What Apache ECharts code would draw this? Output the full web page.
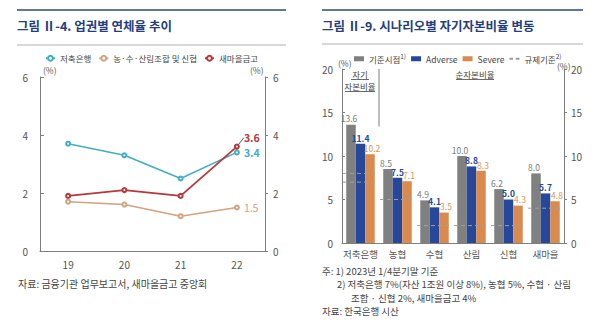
<!DOCTYPE html>
<html><head><meta charset="utf-8">
<script src="https://cdn.jsdelivr.net/npm/echarts@6/dist/echarts.min.js"></script>
<style>html,body{margin:0;padding:0;background:#fff}#c{width:600px;height:327px}</style>
</head><body><div id="c"></div>
<script>
// ---- left chart data ----
const years = ['19', '20', '21', '22'];
const savingsBank = [3.7, 3.3, 2.5, 3.4];
const coops = [1.7, 1.6, 1.2, 1.5];
const mgBank = [1.9, 2.1, 1.9, 3.6];
const leftNames = ['저축은행', '농·수·산림조합 및 신협', '새마을금고'];
// ---- right chart data ----
const sectors = ['저축은행', '농협', '수협', '산림', '신협', '새마을'];
const baseline = [13.6, 8.5, 4.9, 10.0, 6.2, 8.0];
const adverse = [11.4, 7.5, 4.1, 8.8, 5.0, 5.7];
const severe = [10.2, 7.1, 3.5, 8.3, 4.3, 4.8];
const regulation = [[0, 8], [0, 7], [1, 5], [2, 2], [3, 2], [4, 2], [5, 4]];
const rightNames = ['기준시점', 'Adverse', 'Severe', '규제기준'];
const dividerSpan = [[0, 20, 13.4]];

const FONT = '"Noto Sans CJK KR", "Noto Sans", sans-serif';
const AX = '#7f7f7f', TXT = '#555';
const cTeal = '#3fb0c2', cTan = '#d4a27e', cRed = '#b8373a';
const cGray = '#808080', cNavy = '#26479a', cOrange = '#d98b4f';
const TITLE = '#24407c';
const LAST = years.length - 1;

const chart = echarts.init(document.getElementById('c'), null, {renderer: 'svg'});

function withLastLabel(arr, color, bold, extra) {
  return arr.map((v, i) => i === LAST ? Object.assign({value: v,
    label: {show: true, position: 'right', distance: 4, color: color, fontSize: 10.5,
      fontWeight: bold ? 'bold' : 'normal', fontFamily: FONT, formatter: p => p.value.toFixed(1)}}, extra || {}) : v);
}
function barLabel(color, bold) {
  return {show: true, position: 'top', distance: 2, color: color, fontSize: 8.5,
    fontWeight: bold ? 'bold' : 'normal', formatter: p => p.value.toFixed(1)};
}

const regIcon = 'path://M0,0h4v2h-4zM7,0h4v2h-4z';

chart.setOption({
  animation: false,
  textStyle: {fontFamily: FONT},
  legend: [
    {data: leftNames, left: 40, top: 49, itemWidth: 9, itemHeight: 6, itemGap: 7,
      textStyle: {fontSize: 8.5, color: '#444', fontFamily: FONT}},
    {data: rightNames.map((n, i) => i === 3 ? {name: n, icon: regIcon} : {name: n, icon: 'rect'}),
      left: 349, top: 48, itemWidth: 10, itemHeight: 5, itemGap: 5,
      formatter: n => (n === '기준시점' ? '{t|기준시점}{s|1)}' : n === '규제기준' ? '{t|규제기준}{s|2)}' : '{t|' + n + '}'),
      textStyle: {fontSize: 8.5, color: '#444', fontFamily: FONT,
        rich: {t: {fontSize: 8.5, color: '#444', fontFamily: FONT}, s: {fontSize: 6.5, color: '#444', verticalAlign: 'top', padding: [0, 0, 5, 0]}}}}
  ],
  grid: [
    {left: 40, top: 77, width: 225, height: 174},
    {left: 342, top: 69, width: 222, height: 174}
  ],
  xAxis: [
    {gridIndex: 0, type: 'category', data: years, boundaryGap: true,
      axisLine: {lineStyle: {color: AX}}, axisTick: {inside: true, length: 4, lineStyle: {color: AX}},
      axisLabel: {color: TXT, fontSize: 10, margin: 8}},
    {gridIndex: 1, type: 'category', data: sectors, boundaryGap: true,
      axisLine: {lineStyle: {color: AX}}, axisTick: {inside: true, length: 3, lineStyle: {color: AX}},
      axisLabel: {color: TXT, fontSize: 9.5, margin: 6, interval: 0}}
  ],
  yAxis: [
    {gridIndex: 0, type: 'value', min: 0, max: 6, interval: 2, position: 'left',
      axisLine: {show: true, lineStyle: {color: AX}}, axisTick: {show: true, inside: true, length: 4, lineStyle: {color: AX}},
      splitLine: {show: false}, axisLabel: {color: TXT, fontSize: 10, margin: 12}},
    {gridIndex: 0, type: 'value', min: 0, max: 6, interval: 2, position: 'right',
      axisLine: {show: true, lineStyle: {color: AX}}, axisTick: {show: true, length: 3, lineStyle: {color: AX}},
      splitLine: {show: false}, axisLabel: {color: TXT, fontSize: 10, margin: 8}},
    {gridIndex: 1, type: 'value', min: 0, max: 20, interval: 5, position: 'left',
      axisLine: {show: true, lineStyle: {color: AX}}, axisTick: {show: true, inside: true, length: 3, lineStyle: {color: AX}},
      splitLine: {show: false}, axisLabel: {color: TXT, fontSize: 10, margin: 9}},
    {gridIndex: 1, type: 'value', min: 0, max: 20, interval: 5, position: 'right',
      axisLine: {show: true, lineStyle: {color: AX}}, axisTick: {show: true, length: 3, lineStyle: {color: AX}},
      splitLine: {show: false}, axisLabel: {color: TXT, fontSize: 10, margin: 7}}
  ],
  series: [
    {name: leftNames[0], type: 'line', xAxisIndex: 0, yAxisIndex: 0, data: withLastLabel(savingsBank, cTeal, true), color: cTeal,
      symbol: 'emptyCircle', symbolSize: 4, lineStyle: {width: 1.5}},
    {name: leftNames[1], type: 'line', xAxisIndex: 0, yAxisIndex: 0, data: withLastLabel(coops, cTan, false), color: cTan,
      symbol: 'emptyCircle', symbolSize: 4, lineStyle: {width: 1.5}},
    {name: leftNames[2], type: 'line', xAxisIndex: 0, yAxisIndex: 0,
      data: withLastLabel(mgBank, cRed, true, {labelLine: {show: true, lineStyle: {color: '#555', width: 1}}}), color: cRed,
      symbol: 'emptyCircle', symbolSize: 4, lineStyle: {width: 1.8},
      labelLayout: p => p.dataIndex === LAST ? {dy: -9} : {}},
    {name: rightNames[0], type: 'bar', xAxisIndex: 1, yAxisIndex: 2, data: baseline, color: cGray,
      barWidth: 9.5, barGap: '0%', label: barLabel('#7a7a7a', false), labelLayout: {dx: -2}},
    {name: rightNames[1], type: 'bar', xAxisIndex: 1, yAxisIndex: 2, data: adverse, color: cNavy,
      barWidth: 9.5, barGap: '0%', label: barLabel(cNavy, true)},
    {name: rightNames[2], type: 'bar', xAxisIndex: 1, yAxisIndex: 2, data: severe, color: cOrange,
      barWidth: 9.5, barGap: '0%', label: barLabel('#e0944f', false), labelLayout: {dx: 2}},
    {name: rightNames[3], type: 'custom', xAxisIndex: 1, yAxisIndex: 2, data: regulation, color: '#9a9a9a', z: 5,
      renderItem: (params, api) => {
        const c = api.coord([api.value(0), api.value(1)]);
        const w = api.size([1, 0])[0];
        return {type: 'line', shape: {x1: c[0] - w / 2 + 1, y1: c[1], x2: c[0] + w / 2 - 1, y2: c[1]},
          style: {stroke: '#a0a0a0', lineWidth: 1, lineDash: [4, 3]}};
      }},
    {name: 'divider', type: 'custom', xAxisIndex: 1, yAxisIndex: 2, data: dividerSpan, silent: true,
      renderItem: (params, api) => {
        const top = api.coord([api.value(0), api.value(1)]);
        const bot = api.coord([api.value(0), api.value(2)]);
        const w = api.size([1, 0])[0];
        const x = top[0] + w / 2;
        return {type: 'line', shape: {x1: x, y1: top[1], x2: x, y2: bot[1]}, style: {stroke: AX, lineWidth: 1}};
      }}
  ],
  graphic: [
    // left panel header
    {type: 'line', shape: {x1: 17, y1: 10, x2: 286, y2: 10}, style: {stroke: '#33476e', lineWidth: 1.5}},
    {type: 'text', left: 17, top: 19, style: {text: '그림 Ⅱ-4. 업권별 연체율 추이', font: 'bold 12.5px ' + FONT, fill: TITLE}},
    {type: 'line', shape: {x1: 17, y1: 45, x2: 286, y2: 45}, style: {stroke: '#b0b0b0', lineWidth: 1}},
    {type: 'text', left: 43, top: 66, style: {text: '(%)', font: '8.5px ' + FONT, fill: TXT}},
    {type: 'text', left: 250, top: 66, style: {text: '(%)', font: '8.5px ' + FONT, fill: TXT}},
    {type: 'text', left: 18, top: 278, style: {text: '자료: 금융기관 업무보고서, 새마을금고 중앙회', font: '10px ' + FONT, fill: '#444'}},
    // right panel header
    {type: 'line', shape: {x1: 322, y1: 10, x2: 583, y2: 10}, style: {stroke: '#33476e', lineWidth: 1.5}},
    {type: 'text', left: 322, top: 19, style: {text: '그림 Ⅱ-9. 시나리오별 자기자본비율 변동', font: 'bold 12.5px ' + FONT, fill: TITLE}},
    {type: 'line', shape: {x1: 322, y1: 44, x2: 583, y2: 44}, style: {stroke: '#b0b0b0', lineWidth: 1}},
    {type: 'text', left: 338, top: 59, style: {text: '(%)', font: '8.5px ' + FONT, fill: TXT}},
    {type: 'text', left: 557, top: 62, style: {text: '(%)', font: '8.5px ' + FONT, fill: TXT}},
    {type: 'text', x: 360, y: 74, style: {text: '자기', font: '8.5px ' + FONT, fill: '#444', align: 'center', verticalAlign: 'middle'}},
    {type: 'line', shape: {x1: 351, y1: 79.5, x2: 369, y2: 79.5}, style: {stroke: '#444', lineWidth: 0.8}},
    {type: 'text', x: 360, y: 86, style: {text: '자본비율', font: '8.5px ' + FONT, fill: '#444', align: 'center', verticalAlign: 'middle'}},
    {type: 'line', shape: {x1: 345, y1: 91.5, x2: 375, y2: 91.5}, style: {stroke: '#444', lineWidth: 0.8}},
    {type: 'text', x: 475, y: 74, style: {text: '순자본비율', font: '8.5px ' + FONT, fill: '#444', align: 'center', verticalAlign: 'middle'}},
    {type: 'line', shape: {x1: 456, y1: 79.5, x2: 494, y2: 79.5}, style: {stroke: '#444', lineWidth: 0.8}},
    {type: 'text', left: 322, top: 266, style: {text: '주: 1) 2023년 1/4분기말 기준', font: '9.5px ' + FONT, fill: '#444'}},
    {type: 'text', left: 337, top: 279.5, style: {text: '2) 저축은행 7%(자산 1조원 이상 8%), 농협 5%, 수협 · 산림', font: '9.5px ' + FONT, fill: '#444'}},
    {type: 'text', left: 351, top: 293, style: {text: '조합 · 신협 2%, 새마을금고 4%', font: '9.5px ' + FONT, fill: '#444'}},
    {type: 'text', left: 322, top: 306.5, style: {text: '자료: 한국은행 시산', font: '9.5px ' + FONT, fill: '#444'}}
  ]
});
</script>
</body></html>
